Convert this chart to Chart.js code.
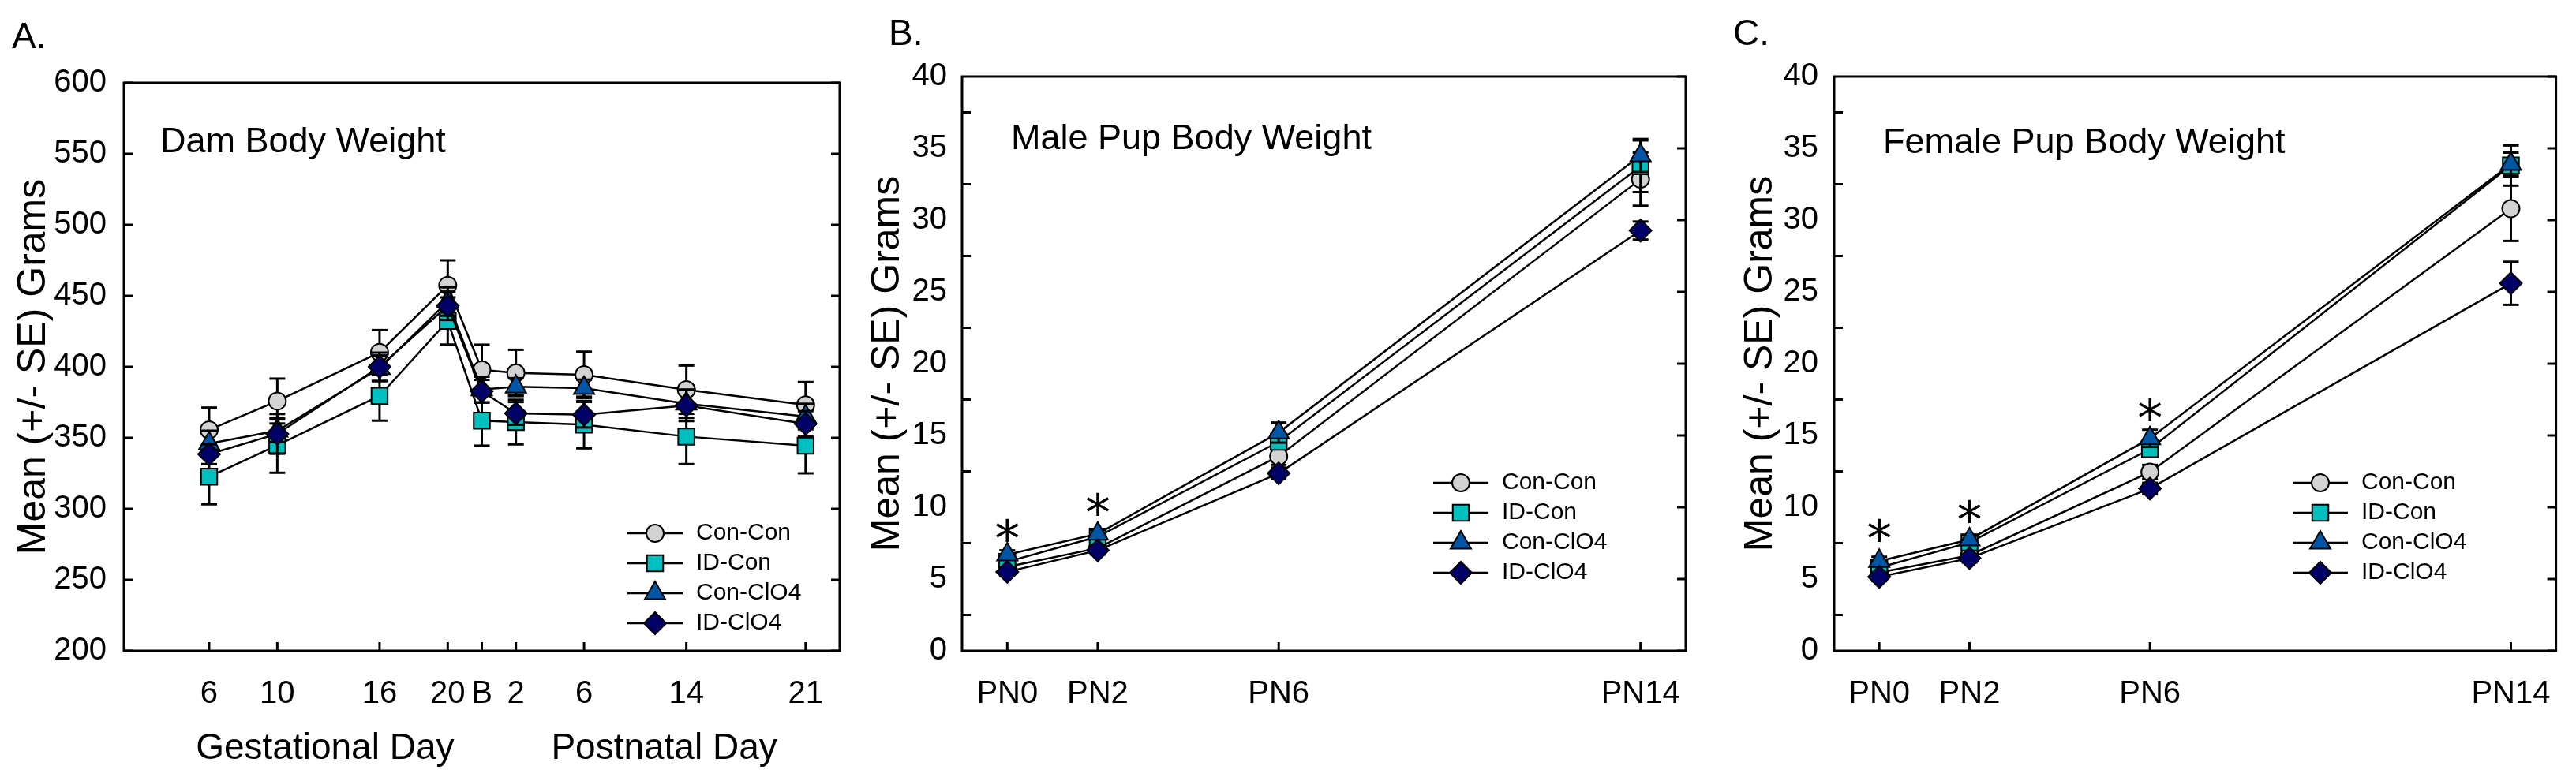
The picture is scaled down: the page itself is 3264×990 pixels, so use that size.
<!DOCTYPE html>
<html>
<head>
<meta charset="utf-8">
<script src="https://cdn.jsdelivr.net/npm/chart.js@4.4.0/dist/chart.umd.min.js"></script>
<style>
  html, body { margin: 0; padding: 0; background: #fff; }
  #wrap { position: relative; width: 3264px; height: 990px; }
  canvas { position: absolute; top: 0; }
</style>
</head>
<body>
<div id="wrap">
  <canvas id="chartA" width="1090" height="990" style="left:0px"></canvas>
  <canvas id="chartB" width="1080" height="990" style="left:1090px"></canvas>
  <canvas id="chartC" width="1094" height="990" style="left:2170px"></canvas>
</div>
<script>
Chart.defaults.font.family = "'Liberation Sans', Arial, sans-serif";
Chart.defaults.color = '#000';

// groups (same order in every panel)
const groups = ['Con-Con', 'ID-Con', 'Con-ClO4', 'ID-ClO4'];

// A. dam body weight, x = position on the day axis
const damDays = [6, 10, 16, 20, 22, 24, 28, 34, 41];
const damLabels = ['6', '10', '16', '20', 'B', '2', '6', '14', '21'];
const damConCon = [355.6, 375.9, 410.2, 457.4, 397.9, 395.7, 394.4, 383.9, 373.2];
const damIDCon = [322.6, 344.8, 379.6, 432.3, 362.1, 361.1, 359.3, 350.9, 344.4];
const damConClO4 = [346, 355, 399, 446, 384, 386, 385, 374, 365];
const damIDClO4 = [338.5, 352.8, 400, 443, 382.8, 367.2, 366.3, 372.8, 359.8];
const damConConSE = [15.7, 15.8, 15.7, 17.6, 17.7, 16.3, 16.3, 17, 16.1];
const damIDConSE = [19.4, 19.4, 17.5, 16.6, 17.6, 15.7, 16.7, 19.4, 19.4];
const damConClO4SE = [9, 8, 9, 10, 9, 6, 6, 10, 9];
const damIDClO4SE = [7, 14, 10, 10, 8, 8, 9, 11, 9];
const damPhases = ['Gestational Day', 'Postnatal Day'];
const damPhaseX = [12.8, 32.7];

// B. male pups
const pupDays = [0, 2, 6, 14];
const pupLabels = ['PN0', 'PN2', 'PN6', 'PN14'];
const maleConCon = [5.85, 7.15, 13.55, 32.85];
const maleIDCon = [6.2, 7.95, 14.56, 33.75];
const maleConClO4 = [6.7, 8.15, 15.2, 34.5];
const maleIDClO4 = [5.5, 7.0, 12.36, 29.27];
const maleConConSE = [0.3, 0.3, 0.6, 1.85];
const maleIDConSE = [0.3, 0.3, 0.5, 1.8];
const maleConClO4SE = [0.3, 0.3, 0.7, 1.15];
const maleIDClO4SE = [0.3, 0.3, 0.4, 0.63];
const maleStarX = [0, 2];
const maleStarY = [8.33, 10.16];

// C. female pups
const femConCon = [5.45, 6.65, 12.45, 30.8];
const femIDCon = [5.8, 7.55, 14.05, 33.8];
const femConClO4 = [6.25, 7.75, 14.8, 33.9];
const femIDClO4 = [5.15, 6.45, 11.3, 25.6];
const femConConSE = [0.3, 0.3, 0.5, 2.25];
const femIDConSE = [0.3, 0.3, 0.5, 1.4];
const femConClO4SE = [0.3, 0.3, 0.6, 0.8];
const femIDClO4SE = [0.3, 0.3, 0.4, 1.5];
const femStarX = [0, 2, 6];
const femStarY = [8.33, 9.65, 16.76];

// marker look per group
const groupStyle = [
  { pointStyle: 'circle', radius: 11, color: '#d3d3d3' },
  { pointStyle: 'rect', radius: 14.5, color: '#00bfbf' },
  { pointStyle: 'triangle', radius: 15, color: '#0055a5' },
  { pointStyle: 'rectRot', radius: 14, color: '#000066' }
];

function line(ctx, x1, y1, x2, y2) {
  ctx.beginPath(); ctx.moveTo(x1, y1); ctx.lineTo(x2, y2); ctx.stroke();
}

// error bars, box, inside ticks and all free text
const decor = {
  id: 'decor',
  beforeDatasetDraw(chart, args) {
    const ds = chart.data.datasets[args.index];
    const y = chart.scales.y, ctx = chart.ctx;
    ctx.save();
    ctx.strokeStyle = '#000';
    ctx.lineWidth = 3;
    args.meta.data.forEach((pt, i) => {
      const v = ds.data[i].y, se = ds.se[i];
      const t = y.getPixelForValue(v + se), b = y.getPixelForValue(v - se);
      line(ctx, pt.x, t, pt.x, b);
      line(ctx, pt.x - 10, t, pt.x + 10, t);
      line(ctx, pt.x - 10, b, pt.x + 10, b);
    });
    ctx.restore();
  },
  afterDraw(chart, args, o) {
    const ctx = chart.ctx, x = chart.scales.x, y = chart.scales.y;
    const { left, right, top, bottom } = chart.chartArea;
    ctx.save();
    ctx.strokeStyle = '#000';
    ctx.fillStyle = '#000';
    ctx.lineWidth = 3;
    ctx.strokeRect(left, top, right - left, bottom - top);
    // ticks, all pointing inside
    y.ticks.forEach((t, i) => {
      const py = y.getPixelForValue(t.value);
      line(ctx, right - 11, py, right, py);
      if (o.leftMajor) line(ctx, left, py, left + 11, py);
      if (o.leftMinor && i < y.ticks.length - 1) {
        const pm = y.getPixelForValue((t.value + y.ticks[i + 1].value) / 2);
        line(ctx, left, pm, left + 11, pm);
      }
    });
    x.ticks.forEach(t => {
      const px = x.getPixelForValue(t.value);
      line(ctx, px, bottom - 11, px, bottom);
    });

    ctx.textAlign = 'left';
    ctx.textBaseline = 'alphabetic';
    ctx.font = "46px 'Liberation Sans', Arial, sans-serif";
    ctx.fillText(o.letter, o.letterX, o.letterY);
    ctx.font = "45px 'Liberation Sans', Arial, sans-serif";
    ctx.fillText(o.title, o.titleX, o.titleY);

    if (o.phases) {
      ctx.textAlign = 'center';
      ctx.font = "46px 'Liberation Sans', Arial, sans-serif";
      o.phases.forEach((txt, i) => ctx.fillText(txt, x.getPixelForValue(o.phaseX[i]), 962));
    }

    if (o.starX) {
      ctx.textAlign = 'center';
      ctx.textBaseline = 'middle';
      ctx.font = "64px 'DejaVu Sans', sans-serif";
      o.starX.forEach((sx, i) => {
        ctx.fillText('*', x.getPixelForValue(sx), y.getPixelForValue(o.starY[i]) + 15);
      });
    }

    // legend
    ctx.textAlign = 'left';
    ctx.textBaseline = 'middle';
    ctx.font = "30px 'Liberation Sans', Arial, sans-serif";
    groups.forEach((g, i) => {
      const ly = o.legendY + i * 38, lx = o.legendX;
      ctx.lineWidth = 2.5;
      ctx.strokeStyle = '#000';
      line(ctx, lx, ly, lx + 70, ly);
      const st = groupStyle[i];
      ctx.fillStyle = st.color;
      ctx.lineWidth = 2;
      Chart.helpers.drawPoint(ctx, { pointStyle: st.pointStyle, radius: st.radius, rotation: 0, borderWidth: 2 }, lx + 35, ly);
      ctx.fillStyle = '#000';
      ctx.fillText(g, lx + 87, ly);
    });
    ctx.restore();
  }
};

function makePanel(id, p) {
  const canvas = document.getElementById(id);
  const W = canvas.width, H = canvas.height;
  const datasets = p.series.map((vals, i) => ({
    label: groups[i],
    data: p.days.map((d, k) => ({ x: d, y: vals[k] })),
    se: p.se[i],
    borderColor: '#000',
    borderWidth: 2.5,
    pointStyle: groupStyle[i].pointStyle,
    pointRadius: groupStyle[i].radius,
    pointHoverRadius: groupStyle[i].radius,
    pointBackgroundColor: groupStyle[i].color,
    pointBorderColor: '#000',
    pointBorderWidth: 2,
    tension: 0,
    order: 4 - i
  }));
  return new Chart(canvas, {
    type: 'line',
    data: { datasets },
    options: {
      responsive: false,
      animation: false,
      devicePixelRatio: 1,
      layout: { padding: { left: 0, top: p.area.top, right: W - p.area.right, bottom: 0 } },
      plugins: {
        legend: { display: false },
        tooltip: { enabled: false },
        decor: p.decor
      },
      scales: {
        x: {
          type: 'linear',
          min: p.xMin, max: p.xMax,
          afterBuildTicks: s => { s.ticks = p.days.map(v => ({ value: v })); },
          afterFit: s => { s.height = H - p.area.bottom; },
          grid: { display: false, drawTicks: false },
          border: { display: false },
          ticks: {
            autoSkip: false, maxRotation: 0, padding: 31,
            font: { size: 40 },
            callback: v => p.labels[p.days.indexOf(v)]
          }
        },
        y: {
          min: p.yMin, max: p.yMax,
          afterFit: s => { s.width = p.area.left; },
          grid: { display: false, drawTicks: false },
          border: { display: false },
          ticks: { stepSize: p.yStep, padding: p.yPad, font: { size: 40 } },
          title: {
            display: true, text: 'Mean (+/- SE) Grams',
            font: { size: 50 }, padding: { top: p.titlePad, bottom: 0 }
          }
        }
      }
    },
    plugins: [decor]
  });
}

makePanel('chartA', {
  days: damDays, labels: damLabels,
  series: [damConCon, damIDCon, damConClO4, damIDClO4],
  se: [damConConSE, damIDConSE, damConClO4SE, damIDClO4SE],
  xMin: 1, xMax: 43, yMin: 200, yMax: 600, yStep: 50,
  area: { left: 157, right: 1064, top: 105, bottom: 825 },
  yPad: 22, titlePad: 13,
  decor: {
    letter: 'A.', letterX: 15, letterY: 61,
    title: 'Dam Body Weight', titleX: 203, titleY: 193,
    phases: damPhases, phaseX: damPhaseX,
    legendX: 795, legendY: 676, leftMajor: true
  }
});

makePanel('chartB', {
  days: pupDays, labels: pupLabels,
  series: [maleConCon, maleIDCon, maleConClO4, maleIDClO4],
  se: [maleConConSE, maleIDConSE, maleConClO4SE, maleIDClO4SE],
  xMin: -1, xMax: 15, yMin: 0, yMax: 40, yStep: 5,
  area: { left: 129, right: 1046, top: 97, bottom: 825 },
  yPad: 19, titlePad: 5,
  decor: {
    letter: 'B.', letterX: 36, letterY: 57,
    title: 'Male Pup Body Weight', titleX: 191, titleY: 189,
    starX: maleStarX, starY: maleStarY,
    legendX: 726, legendY: 612, leftMinor: true
  }
});

makePanel('chartC', {
  days: pupDays, labels: pupLabels,
  series: [femConCon, femIDCon, femConClO4, femIDClO4],
  se: [femConConSE, femIDConSE, femConClO4SE, femIDClO4SE],
  xMin: -1, xMax: 15, yMin: 0, yMax: 40, yStep: 5,
  area: { left: 154, right: 1070, top: 97, bottom: 825 },
  yPad: 20, titlePad: 31,
  decor: {
    letter: 'C.', letterX: 26, letterY: 57,
    title: 'Female Pup Body Weight', titleX: 216, titleY: 194,
    starX: femStarX, starY: femStarY,
    legendX: 735, legendY: 612, leftMinor: true
  }
});
</script>
</body>
</html>
